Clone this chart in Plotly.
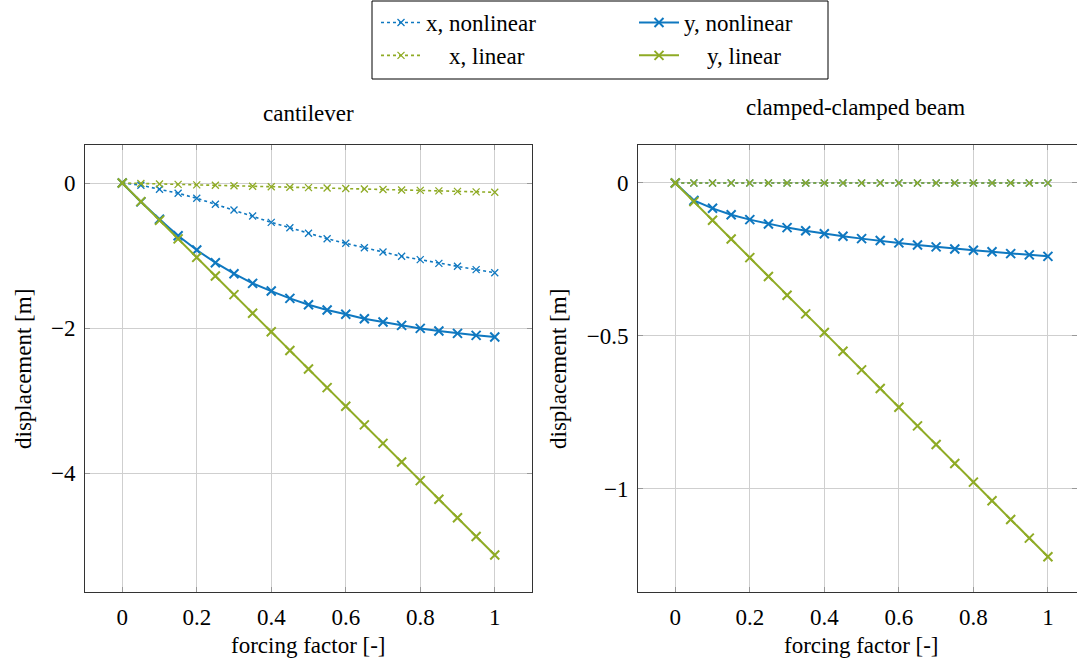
import plotly.graph_objects as go

W, H = 1077, 664
FONT = "Liberation Serif"
FS = 23
BLUE = "#0f78c0"
GREEN = "#8fab25"

forcing = [0, 0.05, 0.1, 0.15, 0.2, 0.25, 0.3, 0.35, 0.4, 0.45, 0.5,
           0.55, 0.6, 0.65, 0.7, 0.75, 0.8, 0.85, 0.9, 0.95, 1.0]

# cantilever
cant_x_nonlin = [0, -0.03, -0.087, -0.142, -0.21, -0.294, -0.372, -0.455, -0.543, -0.616, -0.694,
                 -0.768, -0.832, -0.892, -0.952, -1.011, -1.057, -1.108, -1.149, -1.195, -1.237]
cant_y_nonlin = [0, -0.26, -0.50, -0.727, -0.924, -1.099, -1.251, -1.384, -1.490, -1.591, -1.678,
                 -1.752, -1.811, -1.871, -1.917, -1.963, -2.005, -2.041, -2.074, -2.101, -2.124]
cant_x_lin = [0, -0.006, -0.013, -0.019, -0.026, -0.032, -0.038, -0.045, -0.051, -0.058, -0.064,
              -0.070, -0.077, -0.083, -0.090, -0.096, -0.102, -0.109, -0.115, -0.122, -0.128]
cant_y_lin = [0, -0.257, -0.513, -0.770, -1.026, -1.283, -1.539, -1.796, -2.052, -2.309, -2.565,
              -2.822, -3.078, -3.335, -3.591, -3.848, -4.104, -4.361, -4.617, -4.874, -5.130]

# clamped-clamped beam
cc_x_nonlin = [0, 0, 0, 0, 0, 0, 0, 0, 0, 0, 0, 0, 0, 0, 0, 0, 0, 0, 0, 0, 0]
cc_y_nonlin = [0, -0.057, -0.083, -0.104, -0.120, -0.134, -0.146, -0.156, -0.166, -0.174, -0.182,
               -0.188, -0.196, -0.203, -0.209, -0.216, -0.220, -0.225, -0.231, -0.235, -0.240]
cc_x_lin = [0, 0, 0, 0, 0, 0, 0, 0, 0, 0, 0, 0, 0, 0, 0, 0, 0, 0, 0, 0, 0]
cc_y_lin = [0, -0.061, -0.122, -0.183, -0.244, -0.306, -0.367, -0.428, -0.489, -0.550, -0.611,
            -0.672, -0.733, -0.794, -0.855, -0.917, -0.978, -1.039, -1.100, -1.161, -1.222]

titles = ["cantilever", "clamped-clamped beam"]
xticks = [0, 0.2, 0.4, 0.6, 0.8, 1]
xticklabels = ["0", "0.2", "0.4", "0.6", "0.8", "1"]
left_yticks = [0, -2, -4]
left_yticklabels = ["0", "−2", "−4"]
right_yticks = [0, -0.5, -1]
right_yticklabels = ["0", "−0.5", "−1"]
xlabel = "forcing factor [-]"
ylabel = "displacement [m]"
names = ["x, nonlinear", "y, nonlinear", "x, linear", "y, linear"]
PAD = "\u00a0\u00a0\u00a0\u00a0"

fig = go.Figure()


def dotted(x, y, color, xa, ya, name, legend, show):
    fig.add_trace(go.Scatter(
        x=x, y=y, xaxis=xa, yaxis=ya, name=name, legend=legend, showlegend=show,
        mode="lines+markers",
        line=dict(color=color, width=1.6, dash="dot"),
        marker=dict(symbol="x-thin", size=7, line=dict(color=color, width=1.3)),
    ))


def solid(x, y, color, xa, ya, name, legend, show):
    fig.add_trace(go.Scatter(
        x=x, y=y, xaxis=xa, yaxis=ya, name=name, legend=legend, showlegend=show,
        mode="lines+markers",
        line=dict(color=color, width=2),
        marker=dict(symbol="x-thin", size=9, line=dict(color=color, width=2)),
    ))


# left panel (carries the legend entries)
dotted(forcing, cant_x_nonlin, BLUE, "x", "y", names[0], "legend", True)
dotted(forcing, cant_x_lin, GREEN, "x", "y", PAD + names[2], "legend", True)
solid(forcing, cant_y_nonlin, BLUE, "x", "y", names[1], "legend2", True)
solid(forcing, cant_y_lin, GREEN, "x", "y", PAD + names[3], "legend2", True)

# right panel
dotted(forcing, cc_x_nonlin, BLUE, "x2", "y2", names[0], "legend", False)
dotted(forcing, cc_x_lin, GREEN, "x2", "y2", names[2], "legend", False)
solid(forcing, cc_y_nonlin, BLUE, "x2", "y2", names[1], "legend2", False)
solid(forcing, cc_y_lin, GREEN, "x2", "y2", names[3], "legend2", False)

ydom = [1 - 592 / H, 1 - 145 / H]
common_axis = dict(
    showline=True, linecolor="#333333", linewidth=1, mirror="ticks",
    ticks="inside", ticklen=5, tickcolor="#999999", tickwidth=1,
    showgrid=True, gridcolor="#cfcfcf", gridwidth=1, zeroline=False,
    tickfont=dict(family=FONT, size=FS, color="black"),
)

fig.update_layout(
    width=W, height=H,
    margin=dict(l=0, r=0, t=0, b=0),
    paper_bgcolor="white", plot_bgcolor="white",
    font=dict(family=FONT, size=FS, color="black"),
    xaxis=dict(domain=[85 / W, 532 / W], range=[-0.1, 1.1], tickvals=xticks, ticktext=xticklabels,
               anchor="y", ticklabelstandoff=4, **common_axis),
    yaxis=dict(domain=ydom, range=[-5.64, 0.524], tickvals=left_yticks, ticktext=left_yticklabels,
               anchor="x", ticklabelstandoff=4, **common_axis),
    xaxis2=dict(domain=[638 / W, 1.0], range=[-0.1, 1.078], tickvals=xticks, ticktext=xticklabels,
                anchor="y2", ticklabelstandoff=4, **common_axis),
    yaxis2=dict(domain=ydom, range=[-1.337, 0.124], tickvals=right_yticks, ticktext=right_yticklabels,
                anchor="x2", ticklabelstandoff=4, **common_axis),
    legend=dict(x=376 / W, y=1 - 1 / H, xanchor="left", yanchor="top",
                bgcolor="rgba(0,0,0,0)", font=dict(family=FONT, size=FS),
                itemwidth=40, traceorder="normal"),
    legend2=dict(x=634 / W, y=1 - 1 / H, xanchor="left", yanchor="top",
                 bgcolor="rgba(0,0,0,0)", font=dict(family=FONT, size=FS),
                 itemwidth=40, traceorder="normal"),
    shapes=[dict(type="rect", xref="paper", yref="paper",
                 x0=372 / W, x1=828 / W, y0=1 - 79 / H, y1=1 - 1 / H,
                 line=dict(color="black", width=1), fillcolor="rgba(0,0,0,0)")],
)

ann = [
    (titles[0], 308.5, 113, 0),
    (titles[1], 855, 107, 0),
    (xlabel, 308.5, 645, 0),
    (xlabel, 861, 645, 0),
    (ylabel, 23, 369, -90),
    (ylabel, 558, 369, -90),
]
for text, px, py, ang in ann:
    fig.add_annotation(text=text, x=px / W, y=1 - py / H, xref="paper", yref="paper",
                       xanchor="center", yanchor="middle", textangle=ang,
                       showarrow=False, font=dict(family=FONT, size=FS, color="black"))

fig.write_html("out.html")
